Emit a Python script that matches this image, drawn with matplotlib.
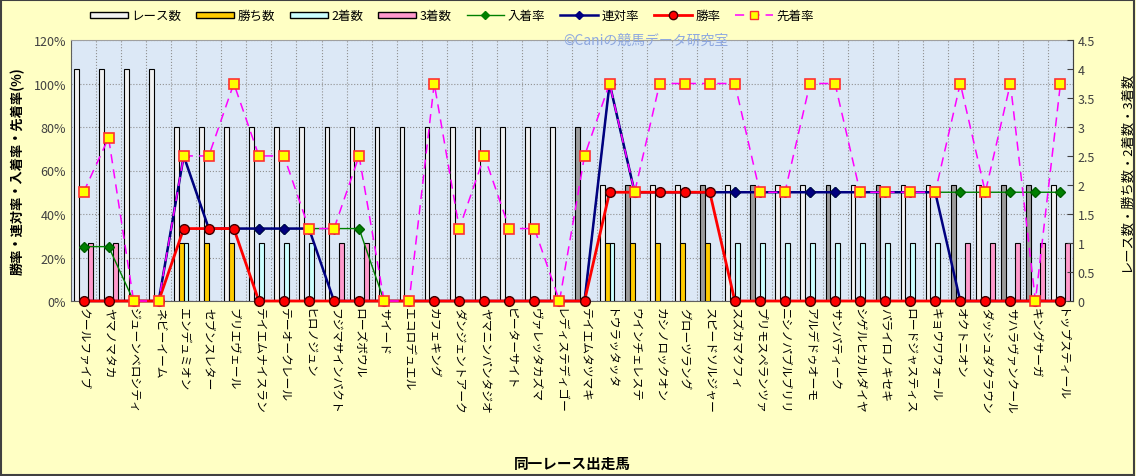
import numpy as np
import matplotlib
matplotlib.use("Agg")
import matplotlib.pyplot as plt
from matplotlib.patches import Patch, Rectangle
from matplotlib.lines import Line2D

plt.rcParams['font.family'] = ['Noto Sans CJK JP', 'DejaVu Sans']

# ------------------------------------------------------------
# data
# ------------------------------------------------------------
horses = [
    "クールファイブ", "ヤマノマタカ", "ジューンベロシティ", "ネビーイーム",
    "エンデュミオン", "セブンスレター", "ブリエヴェール", "テイエムナイスラン",
    "テーオークレール", "ヒロノジュン", "フジマサインパクト", "ローズボウル",
    "サイード", "エコロデュエル", "カフェキング", "ダンジェントアーク",
    "ヤマニンパンタジオ", "ピーターサイト", "ヴァレッタカズマ", "レディステディゴー",
    "テイエムタツマキ", "トウラッタッタ", "ウインチェレステ", "カシノロックオン",
    "グローツラング", "スピードソルジャー", "スズカマクフィ", "プリモスペランツァ",
    "ニシノパブルブリリ", "アルデドゥオーモ", "サンパティーク", "シゲルヒカルダイヤ",
    "パライロノキセキ", "ロードジャスティス", "キョウワウォール", "オクトニオン",
    "ダッシュダクラウン", "サハラヴァンクール", "キングサーガ", "トップスティール",
]

races  = [4, 4, 4, 4, 3, 3, 3, 3, 3, 3, 3, 3, 3, 3, 3, 3, 3, 3, 3, 3,
          3, 2, 2, 2, 2, 2, 2, 2, 2, 2, 2, 2, 2, 2, 2, 2, 2, 2, 2, 2]
wins   = [0, 0, 0, 0, 1, 1, 1, 0, 0, 0, 0, 0, 0, 0, 0, 0, 0, 0, 0, 0,
          0, 1, 1, 1, 1, 1, 0, 0, 0, 0, 0, 0, 0, 0, 0, 0, 0, 0, 0, 0]
second = [0, 0, 0, 0, 1, 0, 0, 1, 1, 1, 0, 0, 0, 0, 0, 0, 0, 0, 0, 0,
          0, 1, 0, 0, 0, 0, 1, 1, 1, 1, 1, 1, 1, 1, 1, 0, 0, 0, 0, 0]
third  = [1, 1, 0, 0, 0, 0, 0, 0, 0, 0, 1, 1, 0, 0, 0, 0, 0, 0, 0, 0,
          0, 0, 0, 0, 0, 0, 0, 0, 0, 0, 0, 0, 0, 0, 0, 1, 1, 1, 1, 1]

# rates in %
place_rate = [25, 25, 0, 0, 66.7, 33.3, 33.3, 33.3, 33.3, 33.3, 33.3, 33.3, 0, 0, 0, 0, 0, 0, 0, 0,
              0, 100, 50, 50, 50, 50, 50, 50, 50, 50, 50, 50, 50, 50, 50, 50, 50, 50, 50, 50]
quinella_rate = [0, 0, 0, 0, 66.7, 33.3, 33.3, 33.3, 33.3, 33.3, 0, 0, 0, 0, 0, 0, 0, 0, 0, 0,
                 0, 100, 50, 50, 50, 50, 50, 50, 50, 50, 50, 50, 50, 50, 50, 0, 0, 0, 0, 0]
win_rate = [0, 0, 0, 0, 33.3, 33.3, 33.3, 0, 0, 0, 0, 0, 0, 0, 0, 0, 0, 0, 0, 0,
            0, 50, 50, 50, 50, 50, 0, 0, 0, 0, 0, 0, 0, 0, 0, 0, 0, 0, 0, 0]
ahead_rate = [50, 75, 0, 0, 66.7, 66.7, 100, 66.7, 66.7, 33.3, 33.3, 66.7, 0, 0, 100, 33.3, 66.7, 33.3, 33.3, 0,
              66.7, 100, 50, 100, 100, 100, 100, 50, 50, 100, 100, 50, 50, 50, 50, 100, 50, 100, 0, 100]

# ------------------------------------------------------------
# style
# ------------------------------------------------------------
BG_FIG = '#FFFFC4'
BG_PLOT = '#DCE8F6'
dark_race_bars = [20, 22, 25, 27, 30, 32, 35, 37, 38]   # 0-based, drawn darker in the original

n = len(horses)
x = np.arange(n)
bw = 0.19

fig = plt.figure(figsize=(11.36, 4.77), dpi=100, facecolor=BG_FIG)
ax = fig.add_axes([71/1136, 1 - 302/477, 1002/1136, 261/477])
ax.set_facecolor(BG_PLOT)

# bars on the right scale
ax2 = ax.twinx()
race_colors = ['#9C9C9C' if i in dark_race_bars else '#F2F2F2' for i in range(n)]
ax2.bar(x - 1.5*bw, races, bw, color=race_colors, edgecolor='black', linewidth=0.8)
ax2.bar(x - 0.5*bw, wins, bw, color='#FFCC00', edgecolor='black', linewidth=0.8)
ax2.bar(x + 0.5*bw, second, bw, color='#CCFFFF', edgecolor='black', linewidth=0.8)
ax2.bar(x + 1.5*bw, third, bw, color='#FF99CC', edgecolor='black', linewidth=0.8)
ax2.set_ylim(0, 4.5)
ax2.set_yticks(np.arange(0, 4.51, 0.5))
ax2.set_yticklabels(['0', '0.5', '1', '1.5', '2', '2.5', '3', '3.5', '4', '4.5'])
ax2.tick_params(axis='y', direction='in', length=4, labelsize=9, labelcolor='#404040', color='#404040')
ax2.set_ylabel('レース数・勝ち数・2着数・3着数', fontsize=9.5)
ax2.yaxis.set_label_coords(1.047, 0.5)

# lines on a third axes sharing the left scale so they sit above the bars
ax3 = ax.twinx()
ax3.plot(x, place_rate, color='#008000', lw=1.0, marker='D', ms=5, mfc='#008000', mec='#006000',
         zorder=3, clip_on=False)
ax3.plot(x, quinella_rate, color='#000080', lw=1.8, marker='D', ms=5, mfc='#000080', mec='#000060',
         zorder=4, clip_on=False)
ax3.plot(x, win_rate, color='#FF0000', lw=2.0, marker='o', ms=7, mfc='#FF0000', mec='#400000',
         zorder=5, clip_on=False)
ax3.plot(x, ahead_rate, color='#FF00FF', lw=1.1, ls=(0, (6, 4)), marker='s', ms=7,
         mfc='#FFFF00', mec='#FF3030', mew=1.2, zorder=6, clip_on=False)
ax3.set_ylim(0, 120)
ax3.set_yticks([])
for a in (ax2, ax3):
    for s in a.spines.values():
        s.set_visible(False)
ax2.spines['right'].set_visible(True)
ax2.spines['right'].set_color('#404040')

# left axis
ax.set_ylim(0, 120)
ax.set_yticks(np.arange(0, 121, 20))
ax.set_yticklabels([f'{v}%' for v in range(0, 121, 20)])
ax.tick_params(axis='y', length=0, labelsize=9, labelcolor='#404040')
ax.set_ylabel('勝率・連対率・入着率・先着率(%)', fontsize=9.5, fontweight='bold')
ax.yaxis.set_label_coords(-0.046, 0.5)

ax.set_xlim(-0.5, n - 0.5)
ax.set_xticks(x)
ax.set_xticklabels(horses, rotation=-90, fontsize=8.5, va='top', ha='center')
ax.set_xticks(np.arange(-0.5, n, 1), minor=True)
ax.tick_params(axis='x', which='both', length=0, pad=4)
ax.grid(True, which='major', axis='y', color='#909090', ls=':', lw=0.8)
ax.grid(True, which='minor', axis='x', color='#909090', ls=':', lw=0.8)
ax.set_axisbelow(True)
for s in ax.spines.values():
    s.set_color('#A0A0A0')
ax.spines['left'].set_color('#606060')
ax.spines['bottom'].set_color('#606060')

ax.set_xlabel('同一レース出走馬', fontsize=10.5, fontweight='bold')
ax.xaxis.set_label_coords(0.5, -0.59)

# legend
handles = [
    Patch(facecolor='#F2F2F2', edgecolor='black', label='レース数'),
    Patch(facecolor='#FFCC00', edgecolor='black', label='勝ち数'),
    Patch(facecolor='#CCFFFF', edgecolor='black', label='2着数'),
    Patch(facecolor='#FF99CC', edgecolor='black', label='3着数'),
    Line2D([], [], color='#008000', lw=1.0, marker='D', ms=4, label='入着率'),
    Line2D([], [], color='#000080', lw=1.8, marker='D', ms=4, label='連対率'),
    Line2D([], [], color='#FF0000', lw=2.0, marker='o', ms=6, mec='#400000', label='勝率'),
    Line2D([], [], color='#FF00FF', lw=1.1, ls=(0, (6, 4)), marker='s', ms=6,
           mfc='#FFFF00', mec='#FF3030', label='先着率'),
]
fig.legend(handles=handles, loc='center', bbox_to_anchor=(0.398, 0.965), ncol=8,
           frameon=False, fontsize=9, handlelength=3.0, handleheight=0.4,
           columnspacing=1.2, handletextpad=0.3)

# watermark
fig.text(646/1136, 1 - 41/477, '©Caniの競馬データ研究室', color='#8EA8E0', fontsize=10,
         ha='center', va='center', zorder=10)

# outer frame
fig.patches.append(Rectangle((0.001, 0.002), 0.997, 0.996, transform=fig.transFigure,
                             fill=False, edgecolor='#404040', lw=1.5))

fig.savefig('out.png', dpi=100, facecolor=BG_FIG)
